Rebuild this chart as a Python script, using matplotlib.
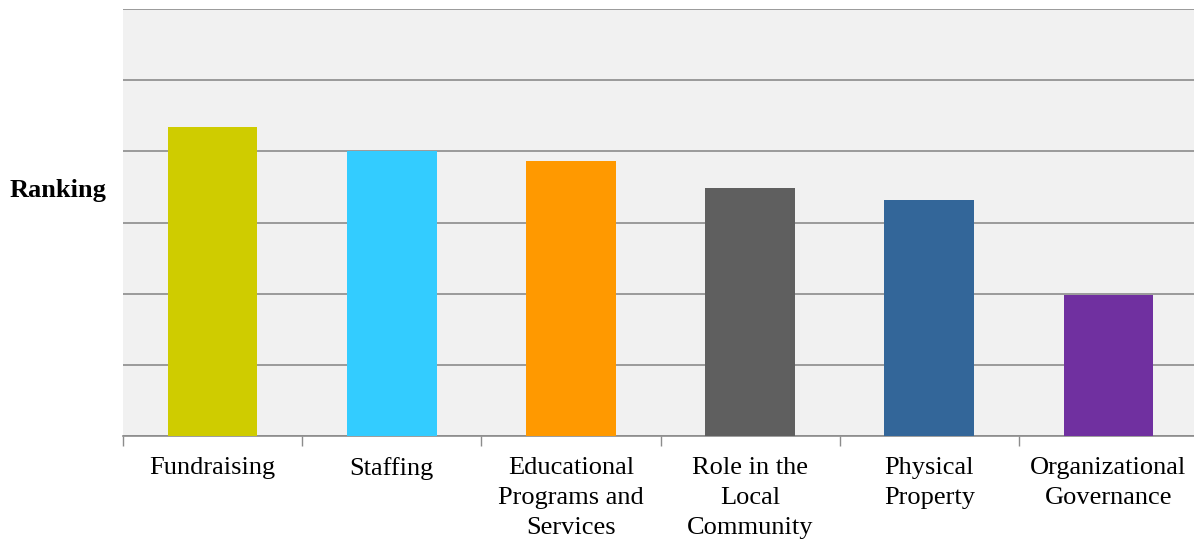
import numpy as np
import matplotlib.pyplot as plt

plt.rcParams['font.family'] = ['Liberation Serif', 'DejaVu Serif']

categories = ['Fundraising', 'Staffing', 'Educational\nPrograms and\nServices',
              'Role in the\nLocal\nCommunity', 'Physical\nProperty', 'Organizational\nGovernance']
values = [4.34, 4.0, 3.86, 3.48, 3.31, 1.98]
colors = ['#CFCC00', '#33CCFF', '#FF9900', '#5F5F5F', '#336699', '#7030A0']

W, H = 1194, 542
fig = plt.figure(figsize=(W / 100, H / 100), dpi=100)
ax = fig.add_axes([123 / W, (H - 436) / H, (1198 - 123) / W, (436 - 9) / H])
ax.set_facecolor('#F1F1F1')

x = np.arange(len(categories))
ax.bar(x, values, width=0.5, color=colors, zorder=3)

ax.set_xlim(-0.5, len(categories) - 0.5)
ax.set_ylim(0, 6)
ax.set_yticks(np.arange(0, 7, 1))
ax.set_yticklabels([])
ax.tick_params(axis='y', length=0)
ax.yaxis.grid(True, color='#8C8C8C', linewidth=1.2, zorder=0)

ax.set_xticks(x)
ax.set_xticklabels(categories, fontsize=19, linespacing=1.47)
ax.tick_params(axis='x', length=0, pad=15)
ax.set_xticks(np.arange(-0.5, len(categories), 1), minor=True)
ax.tick_params(axis='x', which='minor', length=7, color='#8C8C8C', width=1)

for s in ['top', 'right', 'left']:
    ax.spines[s].set_visible(False)
ax.spines['bottom'].set_color('#8C8C8C')
ax.spines['bottom'].set_linewidth(1.2)

fig.text(10 / W, (H - 191) / H, 'Ranking', fontsize=19, fontweight='bold', va='center', ha='left')

fig.savefig('out.png', dpi=100)
